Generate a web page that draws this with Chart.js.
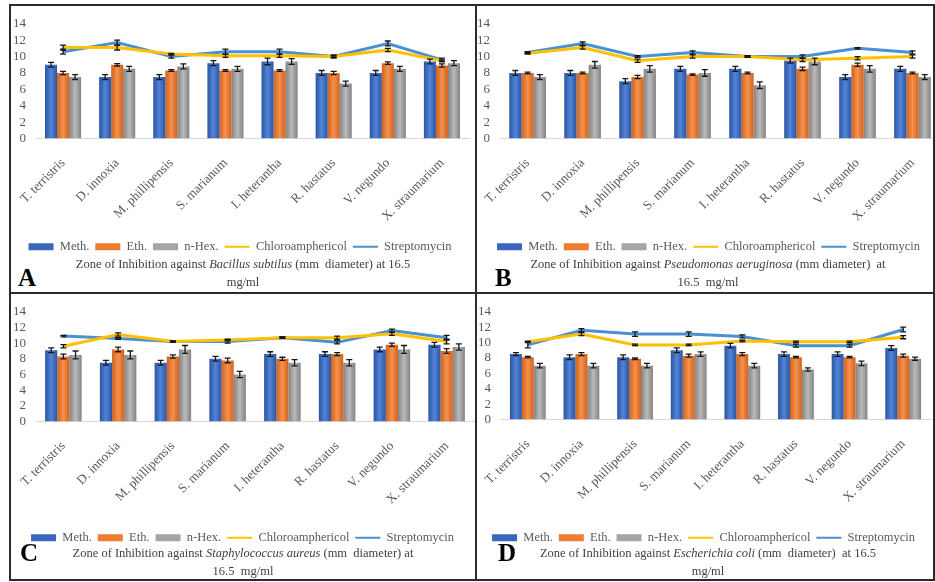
<!DOCTYPE html>
<html>
<head>
<meta charset="utf-8">
<script src="https://cdn.jsdelivr.net/npm/chart.js@4.4.1/dist/chart.umd.min.js"></script>
<style>
  html, body { margin: 0; padding: 0; background: #fff; }
  body { width: 935px; height: 582px; position: relative; overflow: hidden; font-family: "Liberation Serif", "Times New Roman", serif; }
  .frame { position: absolute; left: 9px; top: 4px; width: 922px; height: 573px; border: 2px solid #2b2b2b; }
  .vline { position: absolute; left: 475px; top: 4px; width: 2px; height: 577px; background: #2b2b2b; z-index: 5; }
  .hline { position: absolute; left: 9px; top: 292px; width: 926px; height: 2px; background: #2b2b2b; z-index: 5; }
  .panel { position: absolute; overflow: hidden; }
  .panel canvas { position: absolute; left: 0; top: 0; }
  .title { position: absolute; text-align: center; font-size: 12.5px; line-height: 18px; color: #404040; white-space: nowrap; }
  .letter { position: absolute; font-weight: bold; font-size: 25px; line-height: 25px; color: #000; }
</style>
</head>
<body>
<div class="frame"></div>
<div class="vline"></div>
<div class="hline"></div>

<div class="panel" style="left:11px;top:6px;width:464px;height:286px">
  <canvas id="cA"></canvas>
  <div class="letter" style="left:7px;top:259px">A</div>
  <div class="title" style="left:0;top:249px;width:464px">Zone of Inhibition against <i>Bacillus subtilus</i> (mm&nbsp; diameter) at 16.5<br>mg/ml</div>
</div>
<div class="panel" style="left:477px;top:6px;width:456px;height:286px">
  <canvas id="cB"></canvas>
  <div class="letter" style="left:18px;top:259px">B</div>
  <div class="title" style="left:0;top:249px;width:462px">Zone of Inhibition against <i>Pseudomonas aeruginosa</i> (mm diameter)&nbsp; at<br>16.5&nbsp; mg/ml</div>
</div>
<div class="panel" style="left:11px;top:294px;width:464px;height:285px">
  <canvas id="cC"></canvas>
  <div class="letter" style="left:9px;top:246px">C</div>
  <div class="title" style="left:0;top:250px;width:464px">Zone of Inhibition against <i>Staphylococcus aureus</i> (mm&nbsp; diameter) at<br>16.5&nbsp; mg/ml</div>
</div>
<div class="panel" style="left:477px;top:294px;width:456px;height:285px">
  <canvas id="cD"></canvas>
  <div class="letter" style="left:21px;top:246px">D</div>
  <div class="title" style="left:0;top:250px;width:462px">Zone of Inhibition against <i>Escherichia coli</i> (mm&nbsp; diameter)&nbsp; at 16.5<br>mg/ml</div>
</div>

<script>
// categories / legend names / y ticks
const CATEGORIES = ['T. terristris', 'D. innoxia', 'M. phillipensis', 'S. marianum', 'I. heterantha', 'R. hastatus', 'V. negundo', 'X. straumarium'];
const SERIES = ['Meth.', 'Eth.', 'n-Hex.', 'Chloroamphericol', 'Streptomycin'];
const Y_TICKS = [0, 2, 4, 6, 8, 10, 12, 14];

// A - Bacillus subtilus
const A_METH   = [9.0, 7.5, 7.5, 9.2, 9.4, 8.0, 8.0, 9.4];
const A_ETH    = [8.0, 9.0, 8.3, 8.3, 8.3, 8.0, 9.2, 8.9];
const A_HEX    = [7.5, 8.5, 8.8, 8.5, 9.4, 6.7, 8.5, 9.2];
const A_CHLORO = [11.1, 11.1, 10.3, 10.1, 10.1, 10.0, 10.8, 9.5];
const A_STREP  = [10.6, 11.7, 10.0, 10.6, 10.6, 10.0, 11.6, 9.6];
const A_METH_ERR   = [0.3, 0.3, 0.3, 0.3, 0.4, 0.3, 0.3, 0.3];
const A_ETH_ERR    = [0.2, 0.15, 0.1, 0.1, 0.1, 0.2, 0.15, 0.2];
const A_HEX_ERR    = [0.3, 0.3, 0.3, 0.3, 0.35, 0.3, 0.3, 0.3];
const A_CHLORO_ERR = [0.3, 0.3, 0.1, 0.2, 0.2, 0.1, 0.2, 0.1];
const A_STREP_ERR  = [0.3, 0.3, 0.2, 0.3, 0.3, 0.2, 0.3, 0.2];

// B - Pseudomonas aeruginosa
const B_METH   = [8.0, 8.0, 7.0, 8.5, 8.5, 9.5, 7.5, 8.5];
const B_ETH    = [8.0, 8.0, 7.5, 7.8, 8.0, 8.5, 9.0, 8.0];
const B_HEX    = [7.5, 9.0, 8.5, 8.0, 6.5, 9.4, 8.5, 7.5];
const B_CHLORO = [10.4, 11.1, 9.5, 10.0, 10.0, 9.6, 9.8, 10.0];
const B_STREP  = [10.5, 11.6, 10.0, 10.5, 10.0, 10.0, 11.0, 10.5];
const B_METH_ERR   = [0.3, 0.3, 0.3, 0.3, 0.3, 0.3, 0.3, 0.3];
const B_ETH_ERR    = [0.1, 0.1, 0.2, 0.1, 0.1, 0.2, 0.2, 0.1];
const B_HEX_ERR    = [0.3, 0.4, 0.4, 0.4, 0.4, 0.4, 0.4, 0.3];
const B_CHLORO_ERR = [0.1, 0.2, 0.2, 0.2, 0.1, 0.2, 0.2, 0.2];
const B_STREP_ERR  = [0.1, 0.2, 0.1, 0.2, 0.1, 0.2, 0.1, 0.2];

// C - Staphylococcus aureus
const C_METH   = [9.1, 7.5, 7.5, 8.0, 8.6, 8.6, 9.2, 9.8];
const C_ETH    = [8.3, 9.2, 8.3, 7.8, 8.0, 8.6, 9.8, 9.0];
const C_HEX    = [8.5, 8.5, 9.2, 6.0, 7.5, 7.5, 9.2, 9.5];
const C_CHLORO = [9.6, 11.1, 10.2, 10.4, 10.7, 10.7, 11.2, 10.2];
const C_STREP  = [10.9, 10.6, 10.2, 10.2, 10.7, 10.1, 11.6, 10.7];
const C_METH_ERR   = [0.3, 0.3, 0.3, 0.3, 0.3, 0.3, 0.3, 0.3];
const C_ETH_ERR    = [0.3, 0.3, 0.2, 0.3, 0.2, 0.2, 0.2, 0.3];
const C_HEX_ERR    = [0.5, 0.5, 0.5, 0.4, 0.4, 0.4, 0.5, 0.4];
const C_CHLORO_ERR = [0.2, 0.2, 0.1, 0.1, 0.1, 0.2, 0.2, 0.3];
const C_STREP_ERR  = [0.1, 0.1, 0.1, 0.2, 0.1, 0.2, 0.2, 0.3];

// D - Escherichia coli
const D_METH   = [8.5, 8.1, 8.1, 9.0, 9.6, 8.5, 8.5, 9.3];
const D_ETH    = [8.1, 8.5, 7.9, 8.3, 8.5, 8.1, 8.1, 8.3];
const D_HEX    = [7.0, 7.0, 7.0, 8.5, 7.0, 6.5, 7.3, 7.9];
const D_CHLORO = [10.1, 11.1, 9.7, 9.7, 10.2, 10.1, 10.1, 10.7];
const D_STREP  = [9.7, 11.6, 11.1, 11.1, 10.8, 9.6, 9.6, 11.7];
const D_METH_ERR   = [0.2, 0.3, 0.3, 0.3, 0.3, 0.3, 0.3, 0.3];
const D_ETH_ERR    = [0.1, 0.2, 0.1, 0.2, 0.2, 0.1, 0.1, 0.2];
const D_HEX_ERR    = [0.3, 0.3, 0.3, 0.3, 0.3, 0.2, 0.3, 0.2];
const D_CHLORO_ERR = [0.1, 0.2, 0.1, 0.1, 0.1, 0.1, 0.1, 0.2];
const D_STREP_ERR  = [0.4, 0.2, 0.3, 0.3, 0.2, 0.2, 0.2, 0.3];

// bar colours: darker edges, lighter middle (excel-ish shading)
const BAR_STYLE = [
  { edge: '#2a54a0', mid: '#5384d8', key: '#3a66bb' },
  { edge: '#d0611b', mid: '#f5924f', key: '#ed7d31' },
  { edge: '#828282', mid: '#bababa', key: '#a5a5a5' },
];
const LINE_COLORS = ['#ffc000', '#4a90d2'];
const GROUP_PCT = 0.667;
const FONT = 'Liberation Serif';

// canvas sizing per panel (layout only)
const PANELS = [
  { id: 'cA', w: 464, h: 257, yW: 25, xH: 96, padR: 6,
    vals: [A_METH, A_ETH, A_HEX, A_CHLORO, A_STREP],
    errs: [A_METH_ERR, A_ETH_ERR, A_HEX_ERR, A_CHLORO_ERR, A_STREP_ERR] },
  { id: 'cB', w: 463, h: 257, yW: 23, xH: 96, padR: 0,
    vals: [B_METH, B_ETH, B_HEX, B_CHLORO, B_STREP],
    errs: [B_METH_ERR, B_ETH_ERR, B_HEX_ERR, B_CHLORO_ERR, B_STREP_ERR] },
  { id: 'cC', w: 464, h: 260, yW: 25, xH: 104, padR: 1,
    vals: [C_METH, C_ETH, C_HEX, C_CHLORO, C_STREP],
    errs: [C_METH_ERR, C_ETH_ERR, C_HEX_ERR, C_CHLORO_ERR, C_STREP_ERR] },
  { id: 'cD', w: 455, h: 260, yW: 24, xH: 106, padR: 2,
    vals: [D_METH, D_ETH, D_HEX, D_CHLORO, D_STREP],
    errs: [D_METH_ERR, D_ETH_ERR, D_HEX_ERR, D_CHLORO_ERR, D_STREP_ERR] },
];

// horizontal gradient for each bar, worked out from the x scale
function barFill(style, slot) {
  return (ctx) => {
    const chart = ctx.chart;
    const xs = chart.scales.x;
    if (ctx.type !== 'data' || !xs || !chart.chartArea) return style.mid;
    const cw = chart.chartArea.width / CATEGORIES.length;
    const bw = cw * GROUP_PCT / 3;
    const cx = xs.getPixelForValue(ctx.dataIndex) + (slot - 1) * bw;
    if (!isFinite(cx)) return style.mid;
    const g = chart.ctx.createLinearGradient(cx - bw / 2, 0, cx + bw / 2, 0);
    g.addColorStop(0, style.edge);
    g.addColorStop(0.5, style.mid);
    g.addColorStop(1, style.edge);
    return g;
  };
}

const errorBars = {
  id: 'errorBars',
  afterDatasetsDraw(chart) {
    const { ctx } = chart;
    const ys = chart.scales.y;
    chart.data.datasets.forEach((ds, i) => {
      if (!ds.errors) return;
      const meta = chart.getDatasetMeta(i);
      meta.data.forEach((el, j) => {
        const v = ds.data[j], e = ds.errors[j];
        const top = ys.getPixelForValue(v + e);
        const bot = ys.getPixelForValue(v - e);
        const x = el.x;
        ctx.save();
        ctx.strokeStyle = '#161616';
        ctx.lineWidth = 1.3;
        ctx.beginPath();
        ctx.moveTo(x, top); ctx.lineTo(x, bot);
        ctx.moveTo(x - 3, top); ctx.lineTo(x + 3, top);
        ctx.moveTo(x - 3, bot); ctx.lineTo(x + 3, bot);
        ctx.stroke();
        ctx.restore();
      });
    });
  }
};

PANELS.forEach(p => {
  const canvas = document.getElementById(p.id);
  canvas.width = p.w;
  canvas.height = p.h;

  const datasets = [0, 1, 2].map(k => ({
    label: SERIES[k],
    data: p.vals[k],
    errors: p.errs[k],
    backgroundColor: barFill(BAR_STYLE[k], k),
    keyColor: BAR_STYLE[k].key,
    borderWidth: 0,
    categoryPercentage: GROUP_PCT,
    barPercentage: 1.0,
    order: 1,
  }));
  [3, 4].forEach((k, n) => datasets.push({
    type: 'line',
    label: SERIES[k],
    data: p.vals[k],
    errors: p.errs[k],
    borderColor: LINE_COLORS[n],
    backgroundColor: LINE_COLORS[n],
    borderWidth: 3,
    pointRadius: 0,
    tension: 0,
    fill: false,
    order: 0,
  }));

  new Chart(canvas.getContext('2d'), {
    type: 'bar',
    data: { labels: CATEGORIES, datasets },
    plugins: [errorBars],
    options: {
      responsive: false,
      animation: false,
      layout: { padding: { top: 17, left: 0, right: p.padR, bottom: 0 } },
      plugins: {
        tooltip: { enabled: false },
        title: { display: false },
        legend: {
          position: 'bottom',
          labels: {
            usePointStyle: true,
            pointStyleWidth: 25,
            boxWidth: 25,
            boxHeight: 7,
            padding: 6,
            color: '#595959',
            font: { family: FONT, size: 12.5 },
            generateLabels(chart) {
              const items = Chart.defaults.plugins.legend.labels.generateLabels(chart);
              items.forEach(it => {
                const ds = chart.data.datasets[it.datasetIndex];
                if (ds.type === 'line') {
                  it.pointStyle = 'line';
                  it.strokeStyle = ds.borderColor;
                  it.lineWidth = 2;
                } else {
                  it.pointStyle = 'rect';
                  it.fillStyle = ds.keyColor;
                  it.strokeStyle = ds.keyColor;
                  it.lineWidth = 0;
                }
              });
              return items.sort((a, b) => a.datasetIndex - b.datasetIndex);
            }
          }
        }
      },
      scales: {
        x: {
          grid: { display: false },
          border: { display: true, color: '#d9d9d9', width: 1 },
          ticks: {
            minRotation: 45, maxRotation: 45, autoSkip: false,
            color: '#595959', font: { family: FONT, size: 13 }, padding: 9
          },
          afterFit: (s) => { s.height = p.xH; }
        },
        y: {
          min: Y_TICKS[0],
          max: Y_TICKS[Y_TICKS.length - 1],
          grid: { display: false, drawTicks: false },
          border: { display: false },
          ticks: { stepSize: Y_TICKS[1] - Y_TICKS[0], autoSkip: false, padding: 10, color: '#595959', font: { family: FONT, size: 13 } },
          afterFit: (s) => { s.width = p.yW; }
        }
      }
    }
  });
});
</script>
</body>
</html>
